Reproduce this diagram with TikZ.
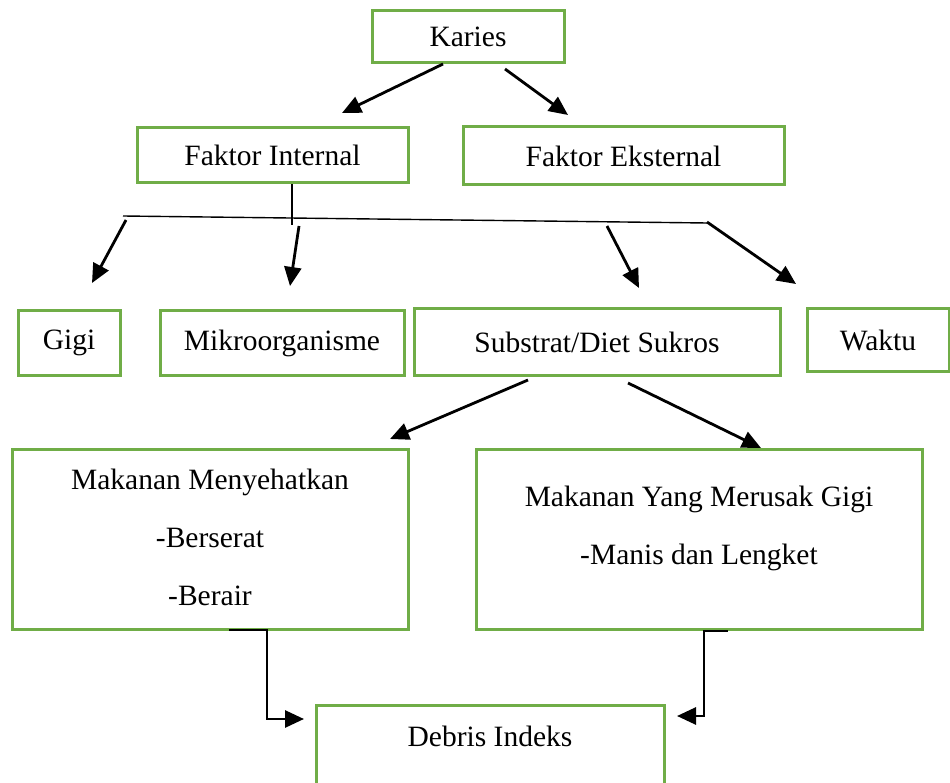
\documentclass[tikz,border=0pt]{standalone}
\usepackage{fontspec}
\setmainfont{Liberation Serif}
\usetikzlibrary{arrows.meta}
\definecolor{boxgreen}{RGB}{112,173,71}
\begin{document}
\begin{tikzpicture}[x=1pt,y=-1pt,
  box/.style={draw=boxgreen,line width=3pt,inner sep=0pt,font=\fontsize{29.5}{34}\selectfont},
  txt/.style={align=center,inner sep=0pt,font=\fontsize{29.5}{58}\selectfont},
  arr/.style={line width=2.8pt,-{Triangle[length=19pt,width=17pt]}},
  thin/.style={line width=1.4pt}]
\useasboundingbox (0,0) rectangle (950,783);
\clip (0,0) rectangle (950,783);
% boxes
\node[box,minimum width=192pt,minimum height=52pt] (kar) at (468,37) {\raisebox{-3pt}{Karies}};
\node[box,minimum width=271pt,minimum height=55pt] (fi) at (272.5,155.5) {Faktor Internal};
\node[box,minimum width=321pt,minimum height=58pt] (fe) at (623.5,156) {Faktor Eksternal};
\node[box,minimum width=102pt,minimum height=64pt] (gigi) at (69,343) {Gigi};
\node[box,minimum width=244pt,minimum height=64pt] (mik) at (282,343) {Mikroorganisme};
\node[box,minimum width=366pt,minimum height=66pt] (sub) at (597,342) {Substrat/Diet Sukros};
\node[box,minimum width=142pt,minimum height=62pt] (wak) at (878,340) {Waktu};
\node[box,minimum width=396pt,minimum height=180pt] (mm) at (210,539) {};
\node[txt] (mmt) at (210,537) {Makanan Menyehatkan\\-Berserat\\-Berair};
\node[box,minimum width=446pt,minimum height=180pt] (my) at (699,539) {};
\node[txt] (myt) at (699,528) {Makanan Yang Merusak Gigi\\-Manis dan Lengket};
\node[box,minimum width=348pt,minimum height=100pt] (deb) at (490,755) {};
\node[txt] (debt) at (490,736) {Debris Indeks};
% Karies arrows
\coordinate (k1) at (443,64); \coordinate (k1e) at (342,113);
\coordinate (k2) at (505,69); \coordinate (k2e) at (568,115);
\draw[arr] (k1) -- (k1e);
\draw[arr] (k2) -- (k2e);
% branch line
\coordinate (fib) at (292,225);
\coordinate (hl) at (123,216); \coordinate (hr) at (707,223);
\draw[thin] (fi.south -| fib) -- (fib);
\draw[thin] (hl) -- (hr);
\coordinate (a1) at (126,220); \coordinate (a1e) at (92,283);
\coordinate (a2) at (299,226); \coordinate (a2e) at (290,286);
\coordinate (a3) at (607,226); \coordinate (a3e) at (639,288);
\coordinate (a4) at (707,222); \coordinate (a4e) at (796,284);
\draw[arr] (a1) -- (a1e);
\draw[arr] (a2) -- (a2e);
\draw[arr] (a3) -- (a3e);
\draw[arr] (a4) -- (a4e);
% substrat arrows
\coordinate (s1) at (528,380); \coordinate (s1e) at (390,439);
\coordinate (s2) at (628,383); \coordinate (s2e) at (761,448);
\draw[arr] (s1) -- (s1e);
\draw[arr] (s2) -- (s2e);
% bottom elbows
\coordinate (b1) at (229,630); \coordinate (b1e) at (304,719);
\coordinate (b2) at (728,631); \coordinate (b2e) at (677,716);
\draw[arr] (b1) -- (267,630) -- (267,719) -- (b1e);
\draw[arr] (b2) -- (704,631) -- (704,716) -- (b2e);
\end{tikzpicture}
\end{document}
